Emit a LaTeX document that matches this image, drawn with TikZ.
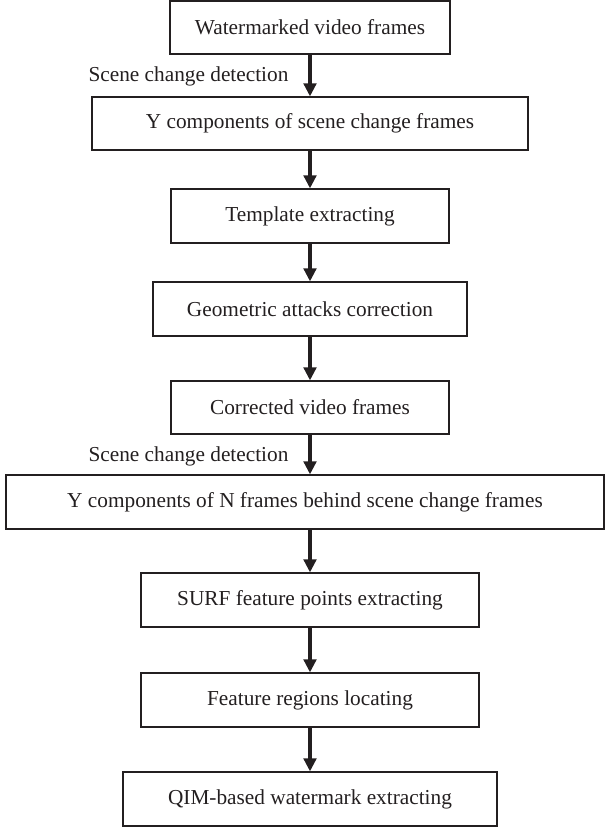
\documentclass[tikz,border=0pt]{standalone}
\usepackage{fontspec}
\setmainfont{Liberation Serif}
\usetikzlibrary{arrows.meta}
\definecolor{ink}{HTML}{231F20}
\begin{document}
\begin{tikzpicture}[x=1pt,y=-1pt,
  stepbox/.style={draw=ink, line width=1.2pt, text=ink, inner sep=0pt, font=\fontsize{21.3}{25}\selectfont},
  flow/.style={draw=ink, line width=3.2pt, -{Triangle[length=13pt,width=12.5pt]}},
  lbl/.style={text=ink, font=\fontsize{21.3}{25}\selectfont, inner sep=0pt}]
\useasboundingbox (0,0) rectangle (607,827);
\node[stepbox, minimum width=280pt, minimum height=53pt] (b1) at (310,27.5) {Watermarked video frames};
\node[stepbox, minimum width=436pt, minimum height=53pt] (b2) at (310,123.5) {Y components of scene change frames};
\node[stepbox, minimum width=278pt, minimum height=54pt] (b3) at (310,216) {Template extracting};
\node[stepbox, minimum width=314pt, minimum height=54pt] (b4) at (310,309) {Geometric attacks correction};
\node[stepbox, minimum width=278pt, minimum height=53pt] (b5) at (310,407.5) {Corrected video frames};
\node[stepbox, minimum width=598pt, minimum height=54pt] (b6) at (305,502) {Y components of N frames behind scene change frames};
\node[stepbox, minimum width=338pt, minimum height=54pt] (b7) at (310,600) {SURF feature points extracting};
\node[stepbox, minimum width=338pt, minimum height=54pt] (b8) at (310,700) {Feature regions locating};
\node[stepbox, minimum width=374pt, minimum height=54pt] (b9) at (310,799) {QIM-based watermark extracting};
\draw[flow] (b1.south -| 310,0) -- (b2.north -| 310,0) node[lbl, midway, anchor=east, xshift=-20pt, yshift=-1pt] (l1) {Scene change detection};
\draw[flow] (b2.south -| 310,0) -- (b3.north -| 310,0);
\draw[flow] (b3.south -| 310,0) -- (b4.north -| 310,0);
\draw[flow] (b4.south -| 310,0) -- (b5.north -| 310,0);
\draw[flow] (b5.south -| 310,0) -- (b6.north -| 310,0) node[lbl, midway, anchor=east, xshift=-20pt, yshift=-2pt] (l2) {Scene change detection};
\draw[flow] (b6.south -| 310,0) -- (b7.north -| 310,0);
\draw[flow] (b7.south -| 310,0) -- (b8.north -| 310,0);
\draw[flow] (b8.south -| 310,0) -- (b9.north -| 310,0);
\end{tikzpicture}
\end{document}
